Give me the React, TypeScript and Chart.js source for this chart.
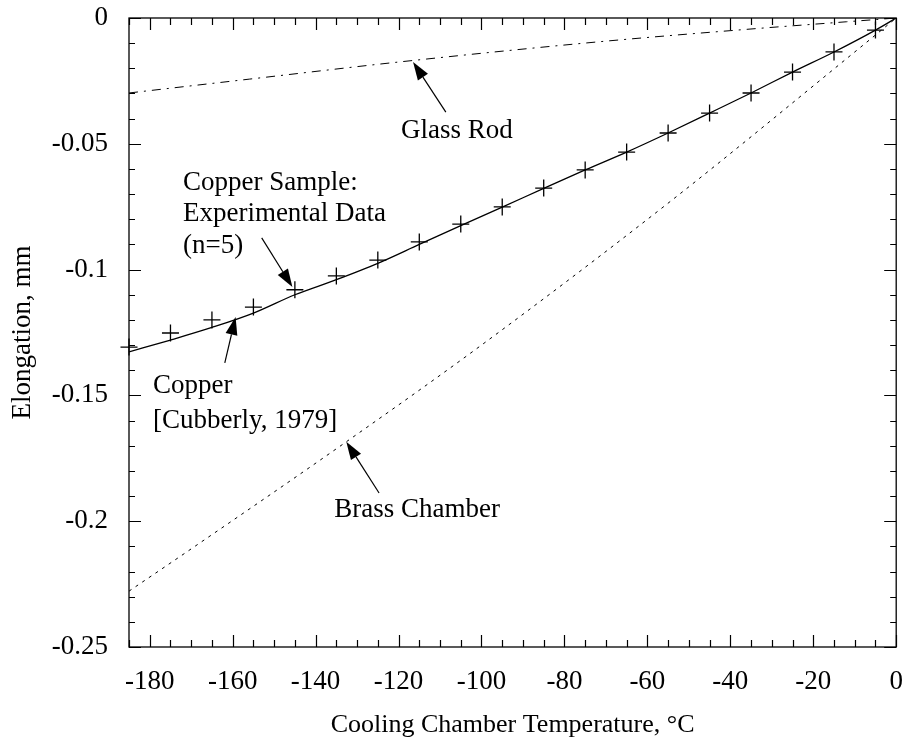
import React, { useEffect, useRef } from "react";
import { Chart, registerables } from "chart.js";

Chart.register(...registerables);

// ---- Data ----
const expTemps = [-185, -175, -165, -155, -145, -135, -125, -115, -105, -95, -85, -75, -65, -55, -45, -35, -25, -15, -5];
const expElong = [-0.1308, -0.1252, -0.12, -0.1149, -0.108, -0.1025, -0.0962, -0.089, -0.0819, -0.0751, -0.0676, -0.0604, -0.0533, -0.0457, -0.0378, -0.0298, -0.0215, -0.0135, -0.0048];

const copperTemps = [-185, -175, -165, -155, -145, -135, -125, -115, -105, -95, -85, -75, -65, -55, -45, -35, -25, -15, -5, 0];
const copperElong = [-0.1327, -0.128, -0.123, -0.1173, -0.11, -0.104, -0.0975, -0.09, -0.0825, -0.0752, -0.0677, -0.0604, -0.0533, -0.0457, -0.0378, -0.0298, -0.0215, -0.0135, -0.0048, 0];

const brassTemps = [-185, -170, -133, -100, -54, -9.4, 0];
const brassElong = [-0.2278, -0.211, -0.1689, -0.13, -0.0723, -0.0127, 0];

const glassTemps = [-185, -156, -120, -72, -36, -12, 0];
const glassElong = [-0.0298, -0.0243, -0.0175, -0.0095, -0.0045, -0.0015, 0];

const xTickValues = [-180, -160, -140, -120, -100, -80, -60, -40, -20, 0];
const yTickValues = [0, -0.05, -0.1, -0.15, -0.2, -0.25];
const yTickLabels = ["0", "-0.05", "-0.1", "-0.15", "-0.2", "-0.25"];

const xTitle = "Cooling Chamber Temperature, \u00B0C";
const yTitle = "Elongation, mm";

// Annotation texts (data coordinates: left edge, baseline) and arrows (tail -> tip)
const annotationLines = [
  { text: "Glass Rod", x: -119.4, y: -0.0477 },
  { text: "Copper Sample:", x: -172.0, y: -0.0684 },
  { text: "Experimental Data", x: -172.0, y: -0.0807 },
  { text: "(n=5)", x: -172.0, y: -0.0934 },
  { text: "Copper", x: -179.2, y: -0.149 },
  { text: "[Cubberly, 1979]", x: -179.2, y: -0.163 },
  { text: "Brass Chamber", x: -135.5, y: -0.1985 },
];
const annotationArrows = [
  { x1: -108.6, y1: -0.0374, x2: -116.5, y2: -0.0175 },
  { x1: -153.0, y1: -0.0874, x2: -145.6, y2: -0.1069 },
  { x1: -161.9, y1: -0.1371, x2: -159.3, y2: -0.1188 },
  { x1: -124.7, y1: -0.1888, x2: -132.6, y2: -0.1684 },
];

const FONT = "'Liberation Serif', 'Times New Roman', Times, serif";

const framePlugin = {
  id: "framePlugin",
  afterDraw(chart: any) {
    const { ctx, chartArea, scales } = chart;
    const { left, right, top, bottom } = chartArea;
    const xs = scales.x;
    const ys = scales.y;
    ctx.save();
    ctx.strokeStyle = "#000";
    ctx.fillStyle = "#000";
    ctx.lineWidth = 1.3;
    ctx.strokeRect(left, top, right - left, bottom - top);
    ctx.lineWidth = 1.2;
    // x ticks every 5
    for (let v = -185; v <= 0; v += 5) {
      const px = Math.round(xs.getPixelForValue(v)) + 0.5;
      const len = v % 20 === 0 ? 12 : 7;
      ctx.beginPath();
      ctx.moveTo(px, bottom);
      ctx.lineTo(px, bottom - len);
      ctx.moveTo(px, top);
      ctx.lineTo(px, top + len);
      ctx.stroke();
    }
    // y ticks every 0.01
    for (let i = 0; i <= 25; i++) {
      const v = -i * 0.01;
      const py = Math.round(ys.getPixelForValue(v)) + 0.5;
      const len = i % 5 === 0 ? 12 : 6;
      ctx.beginPath();
      ctx.moveTo(left, py);
      ctx.lineTo(left + len, py);
      ctx.moveTo(right, py);
      ctx.lineTo(right - len, py);
      ctx.stroke();
    }
    // annotations
    ctx.font = `27px ${FONT}`;
    ctx.textAlign = "left";
    ctx.textBaseline = "alphabetic";
    for (const a of annotationLines) {
      ctx.fillText(a.text, xs.getPixelForValue(a.x), ys.getPixelForValue(a.y));
    }
    ctx.lineWidth = 1.2;
    for (const a of annotationArrows) {
      const x1 = xs.getPixelForValue(a.x1);
      const y1 = ys.getPixelForValue(a.y1);
      const x2 = xs.getPixelForValue(a.x2);
      const y2 = ys.getPixelForValue(a.y2);
      const ang = Math.atan2(y2 - y1, x2 - x1);
      const L = 18;
      const W = 6;
      const c = Math.cos(ang);
      const s = Math.sin(ang);
      const bx = x2 - L * c;
      const by = y2 - L * s;
      ctx.beginPath();
      ctx.moveTo(x1, y1);
      ctx.lineTo(bx, by);
      ctx.stroke();
      ctx.beginPath();
      ctx.moveTo(x2, y2);
      ctx.lineTo(bx + W * s, by - W * c);
      ctx.lineTo(bx - W * s, by + W * c);
      ctx.closePath();
      ctx.fill();
    }
    ctx.restore();
  },
};

export default function App() {
  const ref = useRef<HTMLCanvasElement | null>(null);
  useEffect(() => {
    if (!ref.current) return;
    const chart = new Chart(ref.current, {
      type: "line",
      data: {
        datasets: [
          {
            label: "Glass Rod",
            data: glassTemps.map((t, i) => ({ x: t, y: glassElong[i] })),
            borderColor: "#000",
            borderWidth: 1,
            borderDash: [9, 6, 2, 6],
            pointRadius: 0,
            cubicInterpolationMode: "monotone",
          },
          {
            label: "Brass Chamber",
            data: brassTemps.map((t, i) => ({ x: t, y: brassElong[i] })),
            borderColor: "#000",
            borderWidth: 1,
            borderDash: [3, 5],
            pointRadius: 0,
            cubicInterpolationMode: "monotone",
          },
          {
            label: "Copper [Cubberly, 1979]",
            data: copperTemps.map((t, i) => ({ x: t, y: copperElong[i] })),
            borderColor: "#000",
            borderWidth: 1.3,
            pointRadius: 0,
            cubicInterpolationMode: "monotone",
          },
          {
            label: "Copper Sample: Experimental Data (n=5)",
            data: expTemps.map((t, i) => ({ x: t, y: expElong[i] })),
            showLine: false,
            pointStyle: "cross",
            pointRadius: 8.5,
            pointBorderColor: "#000",
            pointBorderWidth: 1.3,
            borderColor: "#000",
            clip: false as any,
          },
        ],
      },
      options: {
        animation: false,
        responsive: false,
        devicePixelRatio: 1,
        layout: { padding: { top: 18, right: 7, left: 0, bottom: 0 } },
        plugins: {
          legend: { display: false },
          tooltip: { enabled: false },
        },
        scales: {
          x: {
            type: "linear",
            min: -185,
            max: 0,
            grid: { display: false, drawTicks: false },
            border: { display: false },
            afterBuildTicks: (s: any) => {
              s.ticks = xTickValues.map((v) => ({ value: v }));
            },
            afterFit: (s: any) => {
              s.height = 97;
              s.paddingLeft = 0;
              s.paddingRight = 0;
            },
            ticks: {
              autoSkip: false,
              maxRotation: 0,
              padding: 19,
              color: "#000",
              font: { family: FONT, size: 27 },
              callback: (v: any) => String(v),
            },
            title: {
              display: true,
              text: xTitle,
              color: "#000",
              font: { family: FONT, size: 26 },
              padding: { top: 0, bottom: 3 },
            },
          },
          y: {
            type: "linear",
            min: -0.25,
            max: 0,
            grid: { display: false, drawTicks: false },
            border: { display: false },
            afterBuildTicks: (s: any) => {
              s.ticks = yTickValues.map((v) => ({ value: v }));
            },
            afterFit: (s: any) => {
              s.width = 129;
              s.paddingTop = 0;
              s.paddingBottom = 0;
            },
            ticks: {
              autoSkip: false,
              padding: 21,
              color: "#000",
              font: { family: FONT, size: 27 },
              callback: (_v: any, i: number) => yTickLabels[i],
            },
            title: {
              display: true,
              text: yTitle,
              color: "#000",
              font: { family: FONT, size: 27 },
              padding: { top: 7, bottom: 0 },
            },
          },
        },
      },
      plugins: [framePlugin],
    });
    return () => chart.destroy();
  }, []);
  return (
    <div style={{ position: "absolute", left: 0, top: 0, width: 906, height: 744, background: "#fff" }}>
      <canvas ref={ref} width={906} height={744} style={{ display: "block", width: 906, height: 744 }} />
    </div>
  );
}
